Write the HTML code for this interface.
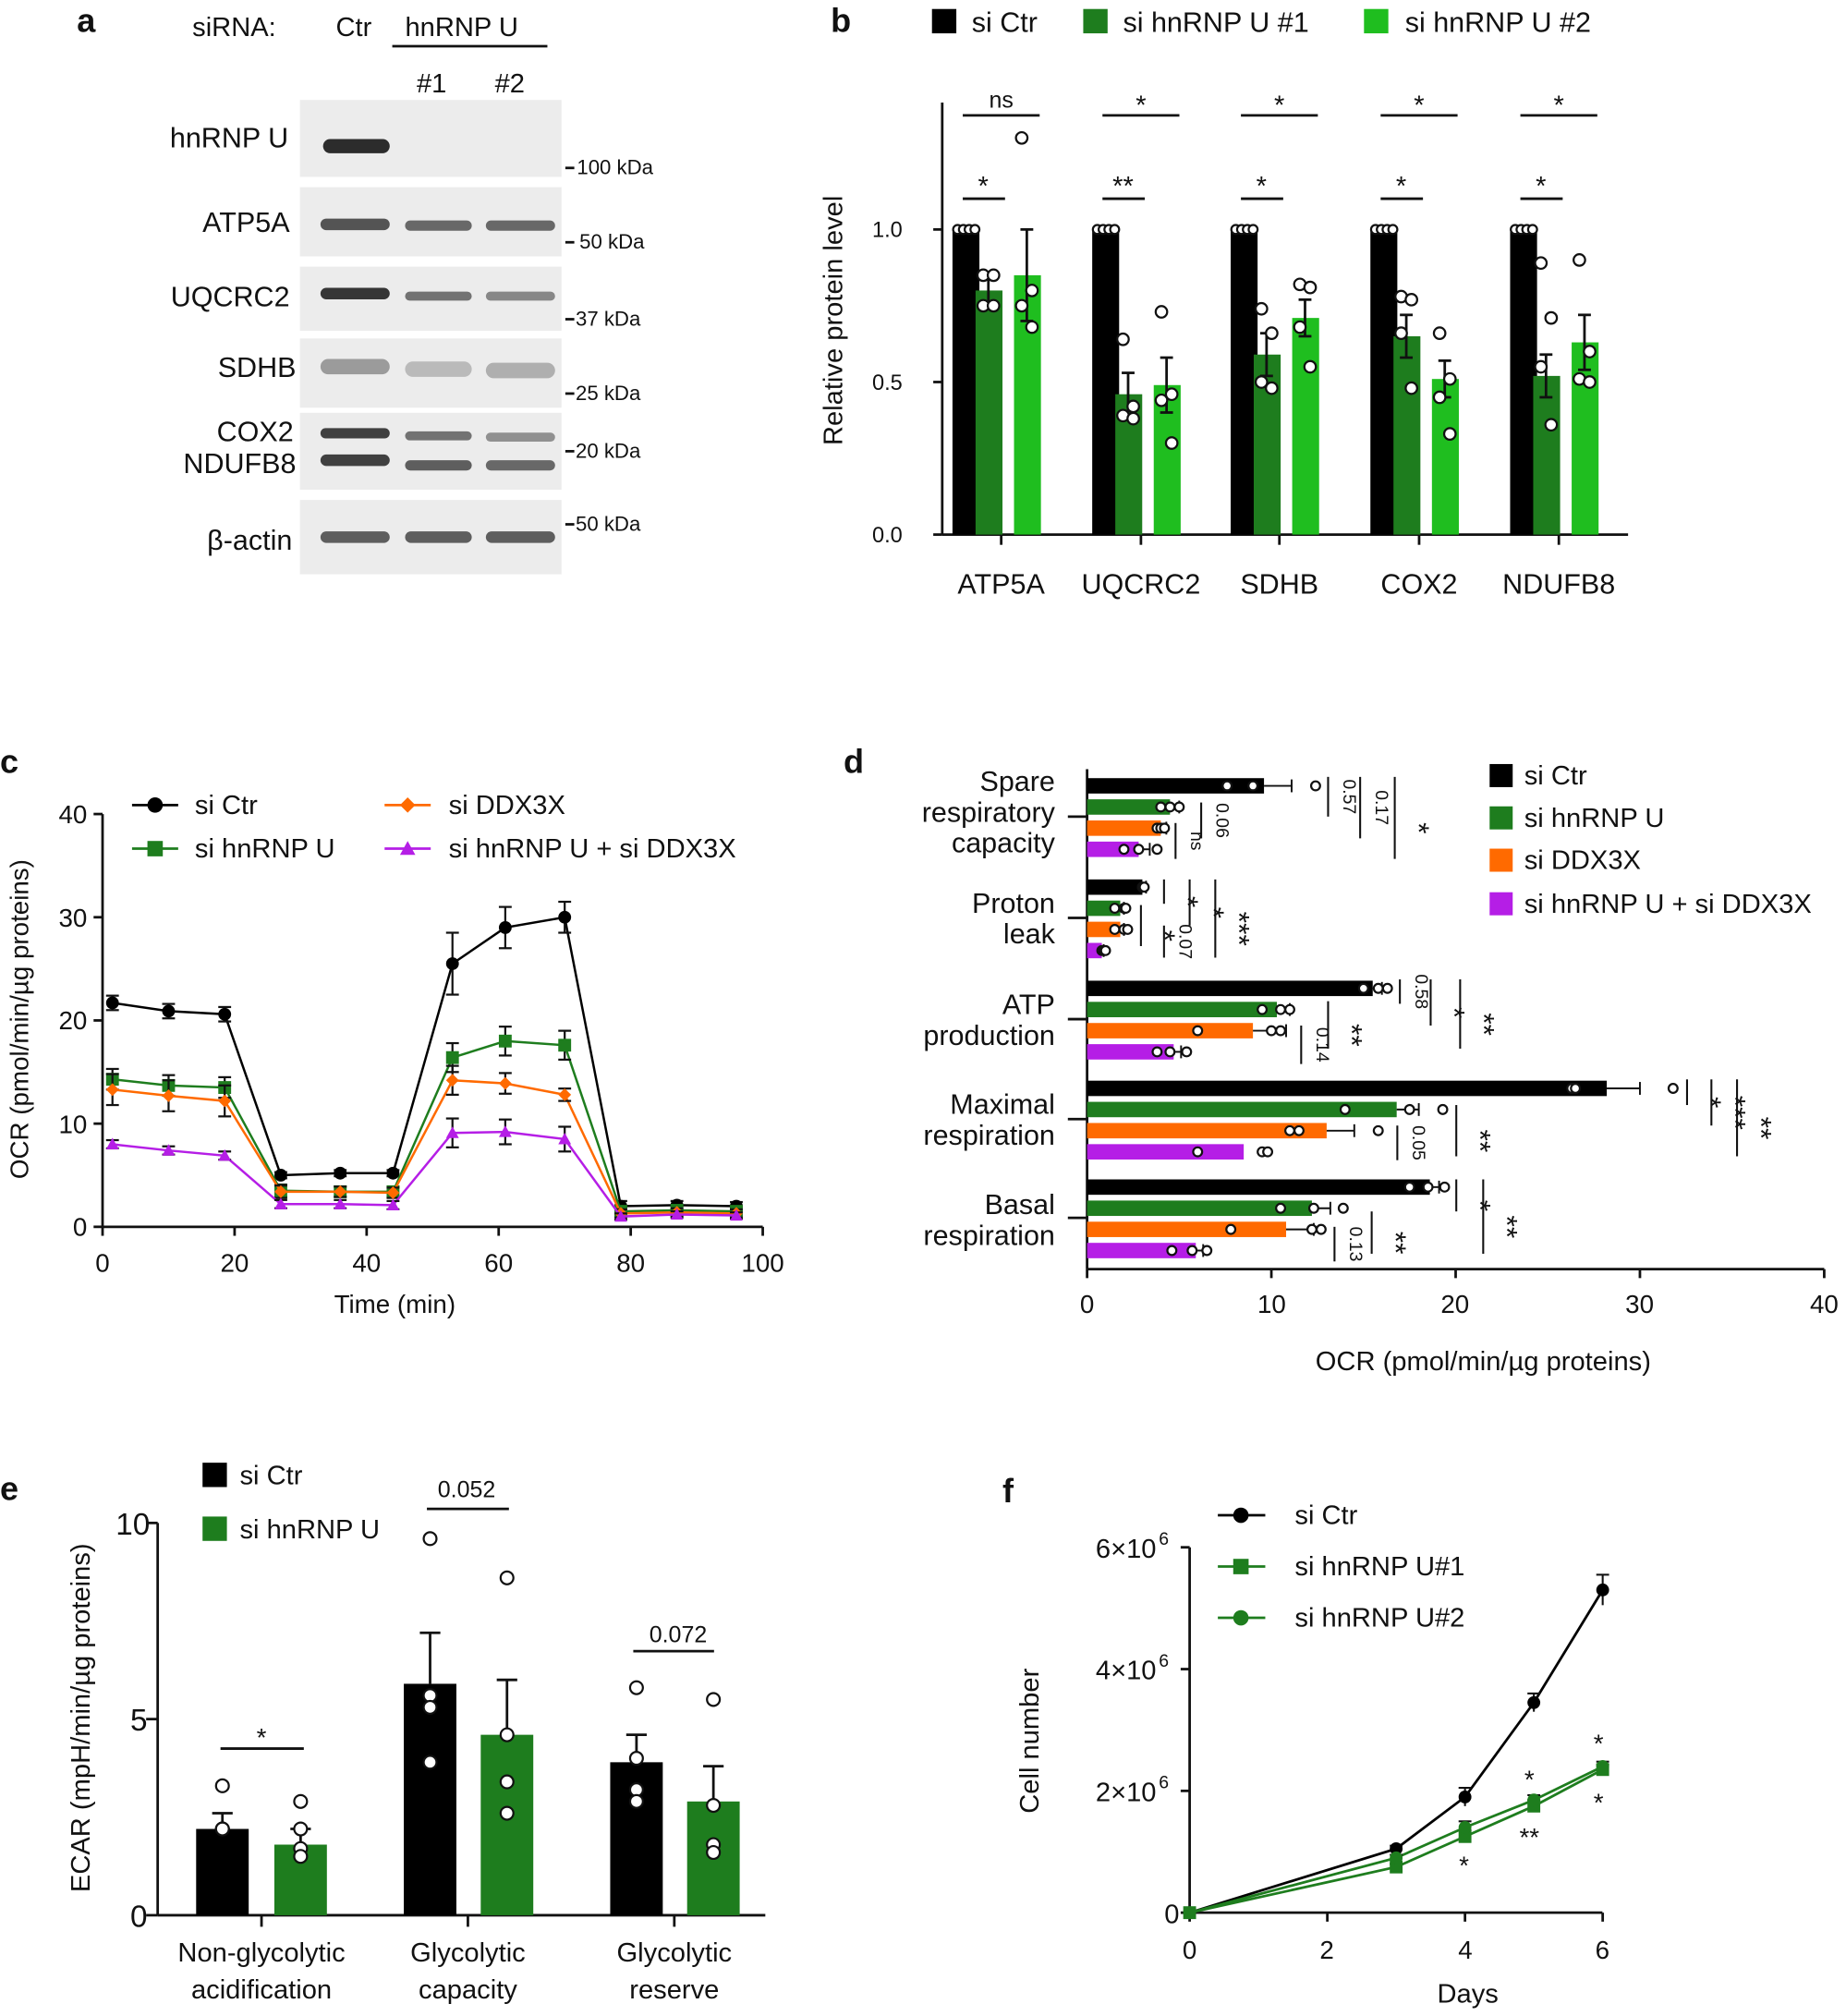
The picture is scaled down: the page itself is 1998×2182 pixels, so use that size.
<!DOCTYPE html>
<html><head><meta charset="utf-8"><style>
html,body{margin:0;padding:0;background:#fff}
svg{display:block}
text{font-family:"Liberation Sans",Arial,sans-serif;fill:#111}
</style></head><body>
<svg id="s" width="1998" height="2182" viewBox="0 0 1440 1572.6" xmlns="http://www.w3.org/2000/svg">
<g id="static">
<text x="60" y="25" font-size="26" font-weight="bold">a</text>
<text x="648" y="25" font-size="26" font-weight="bold">b</text>
<text x="0" y="603" font-size="26" font-weight="bold">c</text>
<text x="658" y="603" font-size="26" font-weight="bold">d</text>
<text x="0" y="1170" font-size="26" font-weight="bold">e</text>
<text x="782" y="1172" font-size="26" font-weight="bold">f</text>

<text x="150" y="28" font-size="21">siRNA:</text>
<text x="262" y="28" font-size="21">Ctr</text>
<text x="316" y="28" font-size="21">hnRNP U</text>
<line x1="306" y1="36" x2="427" y2="36" stroke="#111" stroke-width="2"/>
<text x="325" y="72" font-size="21">#1</text>
<text x="386" y="72" font-size="21">#2</text>
<g font-size="22" text-anchor="end">
<text x="225" y="115">hnRNP U</text>
<text x="226" y="181">ATP5A</text>
<text x="226" y="239">UQCRC2</text>
<text x="231" y="294">SDHB</text>
<text x="229" y="344">COX2</text>
<text x="231" y="369">NDUFB8</text>
<text x="228" y="429">β-actin</text>
</g>
<g font-size="16">
<text x="450" y="136">100 kDa</text>
<text x="452" y="194">50 kDa</text>
<text x="449" y="254">37 kDa</text>
<text x="449" y="312">25 kDa</text>
<text x="449" y="357">20 kDa</text>
<text x="449" y="414">50 kDa</text>
</g>
<g stroke="#111" stroke-width="2">
<line x1="441" y1="131" x2="448" y2="131"/><line x1="441" y1="189" x2="448" y2="189"/>
<line x1="441" y1="249" x2="448" y2="249"/><line x1="441" y1="307" x2="448" y2="307"/>
<line x1="441" y1="352" x2="448" y2="352"/><line x1="441" y1="409" x2="448" y2="409"/>
</g>

<rect x="727" y="7" width="19" height="19" fill="#000"/><text x="758" y="25" font-size="22">si Ctr</text>
<rect x="845" y="7" width="19" height="19" fill="#1e7d1e"/><text x="876" y="25" font-size="22">si hnRNP U #1</text>
<rect x="1064" y="7" width="19" height="19" fill="#1fbe1f"/><text x="1096" y="25" font-size="22">si hnRNP U #2</text>
<text transform="translate(657,250) rotate(-90)" font-size="21" text-anchor="middle">Relative protein level</text>
<g font-size="17" text-anchor="end"><text x="704" y="423">0.0</text><text x="704" y="304">0.5</text><text x="704" y="185">1.0</text></g>
<g font-size="22" text-anchor="middle"><text x="781" y="463">ATP5A</text><text x="890" y="463">UQCRC2</text><text x="998" y="463">SDHB</text><text x="1107" y="463">COX2</text><text x="1216" y="463">NDUFB8</text></g>

<text transform="translate(22,795) rotate(-90)" font-size="20" text-anchor="middle">OCR (pmol/min/µg proteins)</text>
<g font-size="20" text-anchor="end"><text x="68" y="964">0</text><text x="68" y="884">10</text><text x="68" y="803">20</text><text x="68" y="723">30</text><text x="68" y="642">40</text></g>
<g font-size="20" text-anchor="middle"><text x="80" y="992">0</text><text x="183" y="992">20</text><text x="286" y="992">40</text><text x="389" y="992">60</text><text x="492" y="992">80</text><text x="595" y="992">100</text></g>
<text x="308" y="1024" font-size="20" text-anchor="middle">Time (min)</text>
<text x="152" y="635" font-size="21">si Ctr</text>
<text x="152" y="669" font-size="21">si hnRNP U</text>
<text x="350" y="635" font-size="21">si DDX3X</text>
<text x="350" y="669" font-size="21">si hnRNP U + si DDX3X</text>

<g font-size="22" text-anchor="end">
<text x="823" y="617">Spare</text><text x="823" y="641">respiratory</text><text x="823" y="665">capacity</text>
<text x="823" y="712">Proton</text><text x="823" y="736">leak</text>
<text x="823" y="791">ATP</text><text x="823" y="815">production</text>
<text x="823" y="869">Maximal</text><text x="823" y="893">respiration</text>
<text x="823" y="947">Basal</text><text x="823" y="971">respiration</text>
</g>
<g font-size="20" text-anchor="middle"><text x="848" y="1024">0</text><text x="992" y="1024">10</text><text x="1135" y="1024">20</text><text x="1279" y="1024">30</text><text x="1423" y="1024">40</text></g>
<text x="1157" y="1069" font-size="21" text-anchor="middle">OCR (pmol/min/µg proteins)</text>
<rect x="1162" y="596" width="18" height="18" fill="#000"/><text x="1189" y="612" font-size="21">si Ctr</text>
<rect x="1162" y="629" width="18" height="18" fill="#1e7d1e"/><text x="1189" y="645" font-size="21">si hnRNP U</text>
<rect x="1162" y="662" width="18" height="18" fill="#ff6a00"/><text x="1189" y="678" font-size="21">si DDX3X</text>
<rect x="1162" y="696" width="18" height="18" fill="#b51ee6"/><text x="1189" y="712" font-size="21">si hnRNP U + si DDX3X</text>

<text transform="translate(70,1340) rotate(-90)" font-size="21" text-anchor="middle">ECAR (mpH/min/µg proteins)</text>
<g font-size="24" text-anchor="end"><text x="115" y="1503">0</text><text x="115" y="1350">5</text><text x="117" y="1197">10</text></g>
<rect x="158" y="1141" width="19" height="19" fill="#000"/><text x="187" y="1158" font-size="21">si Ctr</text>
<rect x="158" y="1183" width="19" height="19" fill="#1e7d1e"/><text x="187" y="1200" font-size="21">si hnRNP U</text>
<g font-size="21" text-anchor="middle">
<text x="204" y="1530">Non-glycolytic</text><text x="204" y="1559">acidification</text>
<text x="365" y="1530">Glycolytic</text><text x="365" y="1559">capacity</text>
<text x="526" y="1530">Glycolytic</text><text x="526" y="1559">reserve</text>
</g>
<text x="204" y="1362" font-size="20" text-anchor="middle">*</text>
<line x1="172" y1="1364" x2="237" y2="1364" stroke="#111" stroke-width="2"/>
<text x="364" y="1168" font-size="18" text-anchor="middle">0.052</text>
<line x1="333" y1="1177" x2="397" y2="1177" stroke="#111" stroke-width="2"/>
<text x="529" y="1281" font-size="18" text-anchor="middle">0.072</text>
<line x1="494" y1="1288" x2="557" y2="1288" stroke="#111" stroke-width="2"/>

<text transform="translate(810,1358) rotate(-90)" font-size="21" text-anchor="middle">Cell number</text>
<g font-size="21" text-anchor="end">
<text x="920" y="1500">0</text>
<text x="902" y="1405">2×10</text><text x="904" y="1395" font-size="14" text-anchor="start">6</text>
<text x="902" y="1310">4×10</text><text x="904" y="1300" font-size="14" text-anchor="start">6</text>
<text x="902" y="1215">6×10</text><text x="904" y="1205" font-size="14" text-anchor="start">6</text>
</g>
<g font-size="20" text-anchor="middle"><text x="928" y="1528">0</text><text x="1035" y="1528">2</text><text x="1143" y="1528">4</text><text x="1250" y="1528">6</text></g>
<text x="1145" y="1562" font-size="21" text-anchor="middle">Days</text>
<text x="1010" y="1189" font-size="21">si Ctr</text>
<text x="1010" y="1229" font-size="21">si hnRNP U#1</text>
<text x="1010" y="1269" font-size="21">si hnRNP U#2</text>
</g>
<g id="dyn"></g>
</svg>
<script>
var NS="http://www.w3.org/2000/svg",G=document.getElementById('dyn');
function el(t,a,txt){var e=document.createElementNS(NS,t);for(var k in a)e.setAttribute(k,a[k]);if(txt!==undefined)e.textContent=txt;G.appendChild(e);return e;}
function L(x1,y1,x2,y2,c,w){el('line',{x1:x1,y1:y1,x2:x2,y2:y2,stroke:c||'#111','stroke-width':w||2});}
function C(x,y,r,f,s){el('circle',{cx:x,cy:y,r:r,fill:f||'#fff',stroke:s||'#111','stroke-width':1.6});}
function T(x,y,s,sz,anc,rot){var a={x:x,y:y,'font-size':sz||18,'text-anchor':anc||'middle'};if(rot)a.transform='rotate('+rot+' '+x+' '+y+')';el('text',a,s);}
var BK='#000',DG='#1e7d1e',LG='#1fbe1f',OR='#ff6a00',PU='#b51ee6';
var rows=[[78,138],[146,200],[208,258],[264,318],[322,382],[390,448]];
rows.forEach(function(r){el('rect',{x:234,y:r[0],width:204,height:r[1]-r[0],fill:'#ececec'});});
function band(x,w,y,h,op){el('rect',{x:x,y:y-h/2,width:w,height:h,rx:h/2,fill:'#222','fill-opacity':op});}
band(252,52,114,11,0.95);
band(250,54,175,9,0.75);band(316,52,176,8,0.65);band(379,54,176,8,0.65);
band(250,54,229,9,0.9);band(316,52,231,7,0.6);band(379,54,231,7,0.5);
band(250,54,286,12,0.4);band(316,52,288,12,0.25);band(379,54,289,12,0.3);
band(250,54,338,8,0.85);band(316,52,340,7,0.6);band(379,54,341,7,0.45);
band(250,54,359,9,0.85);band(316,52,363,8,0.7);band(379,54,363,8,0.65);
band(250,54,419,9,0.7);band(316,52,419,9,0.7);band(379,54,419,9,0.7);
var by=function(v){return 417-v*238;};
L(735,80,735,417);L(735,417,1270,417);
[0,0.5,1].forEach(function(v){L(728,by(v),735,by(v));});
var cen=[781,890,998,1107,1216],vals=[[.80,.85],[.46,.49],[.59,.71],[.65,.51],[.52,.63]];
var errs=[[.05,.15],[.07,.09],[.07,.06],[.07,.06],[.07,.09]];
var pts=[[[.85,.85,.75,.75],[1.3,.8,.75,.68]],[[.64,.42,.39,.38],[.73,.46,.44,.3]],[[.74,.66,.5,.48],[.82,.81,.68,.55]],[[.78,.77,.66,.48],[.66,.51,.45,.33]],[[.89,.71,.55,.36],[.9,.6,.51,.5]]];
var sigA=['*','**','*','*','*'],sigB=['ns','*','*','*','*'];
cen.forEach(function(c,i){
 el('rect',{x:c-38,y:by(1),width:21,height:238,fill:BK});
 for(var k=0;k<4;k++)C(c-34+k*4.5,by(1),3.5,'#fff','#111');
 L(c,417,c,425);
 [[c-10,DG],[c+20,LG]].forEach(function(q,j){var v=vals[i][j];el('rect',{x:q[0]-10,y:by(v),width:21,height:417-by(v),fill:q[1]});
  L(q[0],by(v-errs[i][j]),q[0],by(v+errs[i][j]));L(q[0]-5,by(v+errs[i][j]),q[0]+5,by(v+errs[i][j]));L(q[0]-5,by(v-errs[i][j]),q[0]+5,by(v-errs[i][j]));
  pts[i][j].forEach(function(p,m){C(q[0]+(m%2?4:-4),by(p),4.5);});});
 L(c-30,155,c+3,155);T(c-14,152,sigA[i],21);
 L(c-30,90,c+30,90);T(c,sigB[i]=='ns'?84:89,sigB[i],sigB[i]=='ns'?18:21);
});
var cx=function(t){return 80+t*5.15},cy=function(v){return 957-v*8.05};
L(80,635,80,957);L(80,957,595,957);
[0,10,20,30,40].forEach(function(v){L(73,cy(v),80,cy(v));});
[0,20,40,60,80,100].forEach(function(t){L(cx(t),957,cx(t),964);});
var tt=[1.5,10,18.5,27,36,44,53,61,70,78.5,87,96];
var S=[[BK,[21.7,20.9,20.6,5,5.2,5.2,25.5,29,30,2,2.1,2],[.7,.7,.7,.3,.3,.3,3,2,1.5,.5,.4,.4],'c'],
[DG,[14.3,13.7,13.5,3.5,3.4,3.4,16.4,18,17.6,1.5,1.6,1.5],[1,1,1,.6,.5,.5,1.4,1.4,1.4,.4,.4,.4],'s'],
[OR,[13.3,12.7,12.2,3.4,3.4,3.3,14.2,13.9,12.8,1.3,1.4,1.3],[1.5,1.5,1.5,.6,.5,.5,1.4,1,.6,.4,.4,.4],'d'],
[PU,[8,7.4,6.9,2.2,2.2,2.1,9.1,9.2,8.5,1,1.2,1.1],[.4,.4,.4,.4,.4,.4,1.4,1.2,1.2,.3,.3,.3],'t']];
function mk(x,y,type,col,r){r=r||5;
 if(type=='c')el('circle',{cx:x,cy:y,r:r,fill:col});
 else if(type=='s')el('rect',{x:x-r,y:y-r,width:2*r,height:2*r,fill:col});
 else if(type=='d')el('polygon',{points:(x)+','+(y-r)+' '+(x+r)+','+y+' '+x+','+(y+r)+' '+(x-r)+','+y,fill:col});
 else el('polygon',{points:x+','+(y-r)+' '+(x+r)+','+(y+r*0.8)+' '+(x-r)+','+(y+r*0.8),fill:col});}
S.forEach(function(s){var p=tt.map(function(t,i){return cx(t)+','+cy(s[1][i])}).join(' ');
 el('polyline',{points:p,fill:'none',stroke:s[0],'stroke-width':1.8});
 tt.forEach(function(t,i){var x=cx(t),e=s[2][i];L(x,cy(s[1][i]-e),x,cy(s[1][i]+e),'#111',1.6);L(x-5,cy(s[1][i]+e),x+5,cy(s[1][i]+e),'#111',1.6);L(x-5,cy(s[1][i]-e),x+5,cy(s[1][i]-e),'#111',1.6);mk(x,cy(s[1][i]),s[3],s[0]);});});
[[BK,'c',103,628],[DG,'s',103,662],[OR,'d',300,628],[PU,'t',300,662]].forEach(function(l){L(l[2],l[3],l[2]+36,l[3],l[0]);mk(l[2]+18,l[3],l[1],l[0],6);});
var dx=function(v){return 848+v*14.375};
L(848,600,848,990);L(848,990,1423,990);
[0,10,20,30,40].forEach(function(v){L(dx(v),990,dx(v),997);});
var gy=[607,686,765,843,920],cols=[BK,DG,OR,PU];
var dv=[[9.6,4.5,4,2.8],[3,1.8,1.8,.8],[15.5,10.3,9,4.7],[28.2,16.8,13,8.5],[18.6,12.2,10.8,5.9]];
var de=[[1.5,.5,.3,.6],[.2,.2,.2,.1],[.5,.7,1.8,.4],[1.8,1.2,1.5,0],[.5,1,1.5,.4]];
var dp=[[[12.4,7.6,9],[4.5,4,5],[3.8,4,4.2],[2,2.8,3.8]],[[3,3,3.1],[1.5,2,2.1],[1.5,2,2.2],[.8,.9,1]],[[15,15.8,16.3],[9.5,10.5,11],[6,10,10.5],[3.8,4.5,5.4]],[[26.3,26.5,31.8],[14,17.5,19.3],[11,11.5,15.8],[6,9.5,9.8]],[[17.5,18.5,19.4],[10.5,12.3,13.9],[7.8,12.2,12.7],[4.6,5.7,6.5]]];
gy.forEach(function(y0,g){L(833,y0+30,848,y0+30);
 for(var k=0;k<4;k++){var y=y0+k*16.5,v=dv[g][k];el('rect',{x:848,y:y,width:v*14.375,height:12,fill:cols[k]});
  var e=de[g][k];if(e>0){L(dx(v),y+6,dx(v+e),y+6,'#111',1.4);L(dx(v+e),y+1,dx(v+e),y+11,'#111',1.4);}
  dp[g][k].forEach(function(p){C(dx(p),y+6,3.5);});}});
function vs(x,y1,y2,txt,rot){L(x,y1,x,y2,'#111',1.5);if(rot)T(x+12,(y1+y2)/2,txt,14,'middle',90);else T(x+11,(y1+y2)/2+8,txt,23,'middle',90);}
vs(1036,606,637,'0.57',1);vs(1061,606,654,'0.17',1);vs(1088,606,670,'*');vs(937,626,654,'0.06',1);vs(917,642,670,'ns',1);
vs(908,686,705,'*');vs(928,686,722,'*');vs(948,686,747,'***');vs(890,706,738,'*');vs(908,722,747,'0.07',1);
vs(1092,764,783,'0.58',1);vs(1116,764,800,'*');vs(1139,764,818,'**');vs(1036,781,818,'**');vs(1015,800,830,'0.14',1);
vs(1316,842,862,'*');vs(1335,842,878,'***');vs(1355,842,902,'**');vs(1136,862,902,'**');vs(1090,878,905,'0.05',1);
vs(1136,920,945,'*');vs(1157,920,978,'**');vs(1070,945,978,'**');vs(1041,957,984,'0.13',1);
var ey=function(v){return 1494-v*30.6};
L(123,1188,123,1494);L(123,1494,597,1494);
[0,5,10].forEach(function(v){L(114,ey(v),123,ey(v));});
[204,365,526].forEach(function(x){L(x,1494,x,1503);});
var eb=[[153,2.2,.4,BK,[3.3,2.2,2.2,2.2]],[214,1.8,.4,DG,[2.9,2.2,1.7,1.5]],[315,5.9,1.3,BK,[9.6,5.6,5.3,3.9]],[375,4.6,1.4,DG,[8.6,4.6,3.4,2.6]],[476,3.9,.7,BK,[5.8,4,3.2,2.9]],[536,2.9,.9,DG,[5.5,2.8,1.8,1.6]]];
eb.forEach(function(b){var c=b[0]+20.5;el('rect',{x:b[0],y:ey(b[1]),width:41,height:1494-ey(b[1]),fill:b[3]});
 L(c,ey(b[1]),c,ey(b[1]+b[2]));L(c-8,ey(b[1]+b[2]),c+8,ey(b[1]+b[2]));
 b[4].forEach(function(p){C(c,ey(p),5);});});
var fx=function(d){return 928+d*53.7},fy=function(v){return 1492-v*47.5};
L(928,1207,928,1492);L(928,1492,1250,1492);
[0,2,4,6].forEach(function(v){L(921,fy(v),928,fy(v));});
[0,2,4,6].forEach(function(d){L(fx(d),1492,fx(d),1499);});
var days=[0,3,4,5,6];
var F=[[BK,[0,1.05,1.9,3.45,5.3],'c',[0,.05,.15,.15,.25]],[DG,[0,.75,1.25,1.75,2.35],'s',[0,.05,.1,.1,.08]],[DG,[0,.9,1.4,1.85,2.4],'c',[0,.05,.1,.08,.08]]];
F.forEach(function(f){el('polyline',{points:days.map(function(d,i){return fx(d)+','+fy(f[1][i])}).join(' '),fill:'none',stroke:f[0],'stroke-width':2});
 days.forEach(function(d,i){var x=fx(d),e=f[3][i];if(e){L(x,fy(f[1][i]-e),x,fy(f[1][i]+e),'#111',1.5);L(x-5,fy(f[1][i]+e),x+5,fy(f[1][i]+e),'#111',1.5);}mk(x,fy(f[1][i]),f[2],f[0],5);});});
[[BK,'c',1182],[DG,'s',1222],[DG,'c',1262]].forEach(function(l){L(950,l[2],987,l[2],l[0]);mk(968,l[2],l[1],l[0],6);});
T(1142,1462,'*',20);T(1193,1395,'*',20);T(1193,1440,'**',20);T(1247,1367,'*',20);T(1247,1413,'*',20);
</script>
</body></html>
